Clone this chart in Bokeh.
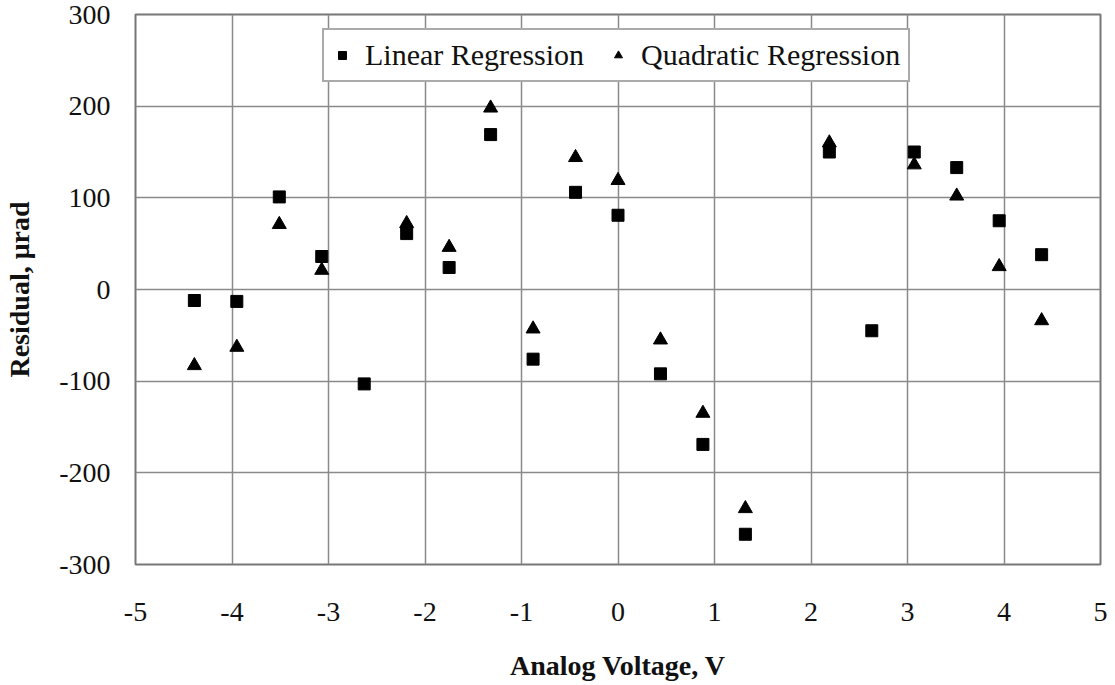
from bokeh.plotting import figure
from bokeh.models import FixedTicker, Range1d, Legend, LegendItem
from bokeh.embed import file_html
from bokeh.resources import INLINE

# Linear regression residuals
lin_x = [-4.39, -3.95, -3.51, -3.07, -2.63, -2.19, -1.75, -1.32, -0.88, -0.44,
         0.0, 0.44, 0.88, 1.32, 2.19, 2.63, 3.07, 3.51, 3.95, 4.39]
lin_y = [-12, -13, 101, 36, -103, 61, 24, 169, -76, 106,
         81, -92, -169, -267, 150, -45, 150, 133, 75, 38]

# Quadratic regression residuals
quad_x = [-4.39, -3.95, -3.51, -3.07, -2.19, -1.75, -1.32, -0.88, -0.44,
          0.0, 0.44, 0.88, 1.32, 2.19, 3.07, 3.51, 3.95, 4.39]
quad_y = [-83, -63, 71, 21, 72, 46, 198, -43, 144,
          119, -55, -135, -239, 160, 136, 102, 25, -34]

x_ticks = [-5, -4, -3, -2, -1, 0, 1, 2, 3, 4, 5]
y_ticks = [-300, -200, -100, 0, 100, 200, 300]

FONT = "Liberation Serif"
TXT = "#111111"

p = figure(width=1115, height=685, output_backend="svg", toolbar_location=None,
           x_range=Range1d(-5, 5), y_range=Range1d(-300, 300),
           min_border_left=135, min_border_right=15, min_border_top=14,
           min_border_bottom=121)

p.outline_line_color = "#777777"
p.outline_line_width = 2

for ax in (p.xaxis, p.yaxis):
    ax.major_label_text_font = FONT
    ax.major_label_text_font_size = "28px"
    ax.major_label_text_color = TXT
    ax.axis_label_text_font = FONT
    ax.axis_label_text_font_style = "bold"
    ax.axis_label_text_font_size = "28px"
    ax.axis_label_text_color = TXT
    ax.axis_line_color = None
    ax.major_tick_out = 0
    ax.major_tick_in = 0
    ax.minor_tick_out = 0
    ax.minor_tick_in = 0

p.xaxis.ticker = FixedTicker(ticks=x_ticks)
p.yaxis.ticker = FixedTicker(ticks=y_ticks)
p.xaxis.major_label_overrides = {t: str(t) for t in x_ticks}
p.yaxis.major_label_overrides = {t: str(t) for t in y_ticks}
p.xaxis.axis_label = "Analog Voltage, V"
p.yaxis.axis_label = "Residual, \u03bcrad"
p.xaxis.major_label_standoff = 38
p.xaxis.axis_label_standoff = 26
p.yaxis.major_label_standoff = 25
p.yaxis.axis_label_standoff = 21

p.xgrid.ticker = FixedTicker(ticks=x_ticks)
p.ygrid.ticker = FixedTicker(ticks=y_ticks)
for g in (p.xgrid, p.ygrid):
    g.grid_line_color = "#8a8a8a"
    g.grid_line_width = 1.5

r_lin = p.scatter(lin_x, lin_y, marker="square", size=12, color="black")
r_quad = p.scatter(quad_x, quad_y, marker="triangle", size=14, color="black")

legend = Legend(items=[LegendItem(label="Linear Regression", renderers=[r_lin]),
                       LegendItem(label="Quadratic Regression", renderers=[r_quad])],
                orientation="horizontal", location=(187, 482))
legend.label_text_font = FONT
legend.label_text_font_size = "30px"
legend.label_text_color = TXT
legend.border_line_color = "#555555"
legend.border_line_width = 2
legend.background_fill_color = "white"
legend.background_fill_alpha = 1
legend.padding = 8
legend.margin = 0
legend.glyph_width = 20
legend.label_standoff = 13
legend.spacing = 24
p.add_layout(legend, "center")

open("out.html", "w").write(file_html(p, INLINE))
